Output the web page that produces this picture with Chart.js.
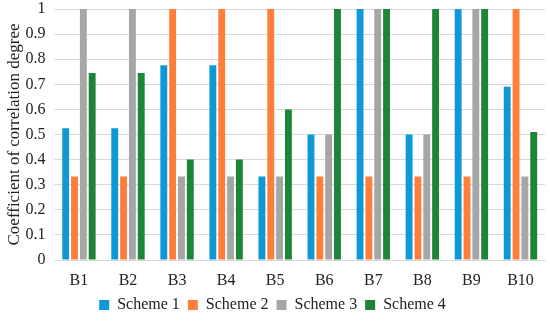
<!DOCTYPE html>
<html>
<head>
<meta charset="utf-8">
<script src="https://cdn.jsdelivr.net/npm/chart.js@4"></script>
<style>
  html, body { margin: 0; padding: 0; background: #fff; }
  #wrap { width: 550px; height: 325px; }
</style>
</head>
<body>
<div id="wrap"><canvas id="c"></canvas></div>
<script>
var categories = ["B1", "B2", "B3", "B4", "B5", "B6", "B7", "B8", "B9", "B10"];
var scheme1 = [0.525, 0.525, 0.776, 0.776, 0.333, 0.5, 1, 0.5, 1, 0.69];
var scheme2 = [0.333, 0.333, 1, 1, 1, 0.333, 0.333, 0.333, 0.333, 1];
var scheme3 = [1, 1, 0.333, 0.333, 0.333, 0.5, 1, 0.5, 1, 0.333];
var scheme4 = [0.745, 0.745, 0.4, 0.4, 0.6, 1, 1, 1, 1, 0.51];
var yTicks = [0, 0.1, 0.2, 0.3, 0.4, 0.5, 0.6, 0.7, 0.8, 0.9, 1];

var font = "'Liberation Serif', 'DejaVu Serif', serif";

function ds(label, data, color) {
    return {
        label: label,
        data: data,
        backgroundColor: color,
        borderWidth: 0,
        categoryPercentage: 0.72,
        barPercentage: 0.78
    };
}

var canvas = document.getElementById('c');
var chart = new Chart(canvas, {
    type: 'bar',
    data: {
        labels: categories,
        datasets: [
            ds("Scheme 1", scheme1, "#0E98D5"),
            ds("Scheme 2", scheme2, "#FF7F3A"),
            ds("Scheme 3", scheme3, "#A6A6A6"),
            ds("Scheme 4", scheme4, "#1C8537")
        ]
    },
    options: {
        responsive: true,
        maintainAspectRatio: false,
        animation: false,
        layout: { padding: { top: 0, right: 5, left: 0, bottom: 2 } },
        plugins: {
            legend: {
                position: 'bottom',
                labels: {
                    boxWidth: 10,
                    boxHeight: 10,
                    padding: 8,
                    color: '#222',
                    font: { family: font, size: 16 }
                }
            },
            tooltip: { enabled: false }
        },
        scales: {
            x: {
                // tick marks are hidden; tickLength only pushes the labels down
                grid: { display: false, drawTicks: true, tickLength: 13 },
                border: { color: '#D9D9D9' },
                ticks: {
                    autoSkip: false,
                    maxRotation: 0,
                    color: '#222',
                    padding: 0,
                    font: { family: font, size: 16, lineHeight: 1 }
                }
            },
            y: {
                min: 0,
                max: 1,
                afterBuildTicks: function(axis) {
                    axis.ticks = yTicks.map(function(v) { return { value: v }; });
                },
                grid: { color: '#D9D9D9', drawTicks: true, tickLength: 8, tickColor: 'rgba(0,0,0,0)' },
                border: { display: false },
                ticks: {
                    autoSkip: false,
                    color: '#222',
                    padding: 1,
                    font: { family: font, size: 16, lineHeight: 1 },
                    callback: function(v) { return String(Math.round(v * 10) / 10); }
                },
                title: {
                    display: true,
                    text: 'Coefficient of correlation degree',
                    color: '#222',
                    font: { family: font, size: 17 },
                    padding: { bottom: 0 }
                }
            }
        }
    }
});
</script>
</body>
</html>
